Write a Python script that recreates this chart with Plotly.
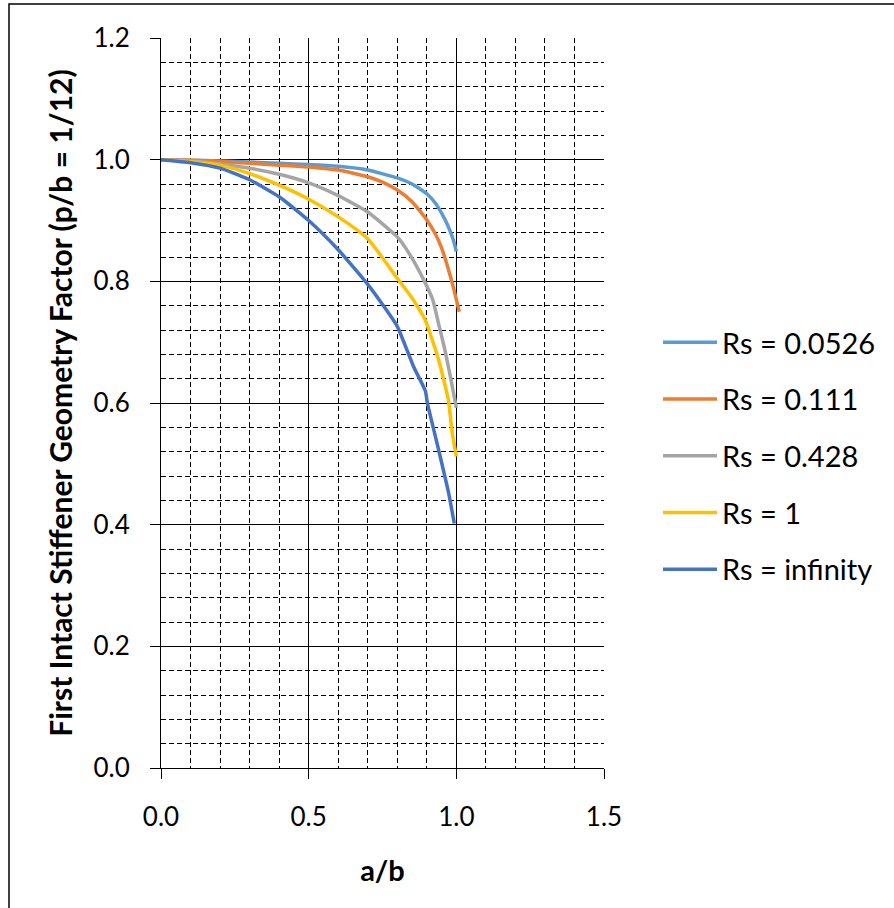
import plotly.graph_objects as go

# ---- data ----
names = ["Rs = 0.0526", "Rs = 0.111", "Rs = 0.428", "Rs = 1", "Rs = infinity"]
colors = ["#5B9BD5", "#ED7D31", "#A5A5A5", "#FFC000", "#4472C4"]

x_0526 = [0, 0.1, 0.2, 0.3, 0.4, 0.5, 0.6, 0.7, 0.8, 0.85, 0.9, 0.93, 0.95, 0.97, 0.99, 1.0]
y_0526 = [1.0, 0.999, 0.998, 0.996, 0.994, 0.992, 0.989, 0.983, 0.970, 0.960, 0.944, 0.928, 0.912, 0.893, 0.868, 0.849]

x_111 = [0, 0.1, 0.2, 0.3, 0.4, 0.5, 0.6, 0.7, 0.75, 0.8, 0.85, 0.9, 0.93, 0.95, 0.97, 0.99, 1.0, 1.01]
y_111 = [1.0, 0.999, 0.997, 0.994, 0.991, 0.988, 0.983, 0.972, 0.963, 0.950, 0.931, 0.901, 0.877, 0.855, 0.825, 0.790, 0.770, 0.750]

x_428 = [0, 0.1, 0.2, 0.3, 0.4, 0.5, 0.6, 0.7, 0.8, 0.84, 0.89, 0.92, 0.94, 0.96, 0.98, 1.0]
y_428 = [1.0, 0.998, 0.993, 0.986, 0.976, 0.962, 0.941, 0.914, 0.873, 0.846, 0.802, 0.770, 0.730, 0.690, 0.643, 0.592]

x_1 = [0, 0.1, 0.2, 0.3, 0.4, 0.5, 0.6, 0.7, 0.8, 0.855, 0.895, 0.94, 0.973, 0.986, 1.0]
y_1 = [1.0, 0.997, 0.991, 0.977, 0.958, 0.935, 0.906, 0.870, 0.805, 0.769, 0.736, 0.671, 0.605, 0.551, 0.512]

x_inf = [0, 0.1, 0.2, 0.3, 0.4, 0.5, 0.6, 0.7, 0.75, 0.8, 0.855, 0.895, 0.902, 0.94, 0.974, 0.993]
y_inf = [1.0, 0.995, 0.986, 0.967, 0.939, 0.900, 0.852, 0.795, 0.762, 0.726, 0.660, 0.620, 0.600, 0.523, 0.452, 0.402]

xs = [x_0526, x_111, x_428, x_1, x_inf]
ys = [y_0526, y_111, y_428, y_1, y_inf]

FONT = "Lato"

fig = go.Figure()
for i, (n, c, xv, yv) in enumerate(zip(names, colors, xs, ys)):
    fig.add_trace(go.Scatter(x=xv, y=yv, mode="lines", name=n, legendgroup=str(i),
                             line=dict(color=c, width=3.5, shape="spline", smoothing=0.5)))

W, H = 894, 908
L, R, T, B = 161, 290, 38, 140
pw, ph = W - L - R, H - T - B

axis_common = dict(
    showline=True, linecolor="black", linewidth=1, mirror=False,
    ticks="outside", ticklen=10, tickcolor="black", tickwidth=1,
    showgrid=True, gridcolor="black", gridwidth=1,
    zeroline=False,
    tickfont=dict(family=FONT, size=26, color="black"),
)

fig.update_xaxes(range=[0, 1.5], dtick=0.5, tick0=0, tickformat=".1f",
                 minor=dict(dtick=0.1, showgrid=True, gridcolor="black", griddash="5px,3px", gridwidth=1),
                 title=dict(text="<b>a/b</b>", font=dict(family=FONT, size=29, color="black"), standoff=29),
                 ticklabelstandoff=16,
                 **axis_common)
fig.update_yaxes(range=[0, 1.2], dtick=0.2, tick0=0, tickformat=".1f",
                 minor=dict(dtick=0.04, showgrid=True, gridcolor="black", griddash="5px,3px", gridwidth=1),
                 title=dict(text="<b>First Intact Stiffener Geometry Factor (p/b = 1/12)</b>",
                            font=dict(family=FONT, size=30, color="black"), standoff=12),
                 ticklabelstandoff=15,
                 **axis_common)

# outer chart border (top and left edges visible in the reference)
fig.add_shape(type="rect", xref="paper", yref="paper",
              x0=(9 - L) / pw, x1=(W + 20 - L) / pw,
              y0=-(B + 20) / ph, y1=(T + ph - 4) / ph,
              line=dict(color="black", width=1.5), fillcolor="rgba(0,0,0,0)", layer="below")

fig.update_layout(
    width=W, height=H,
    margin=dict(l=L, r=R, t=T, b=B),
    paper_bgcolor="white", plot_bgcolor="white",
    font=dict(family=FONT, color="black"),
    showlegend=True,
    legend=dict(x=(658 - L) / pw, xanchor="left", y=(768 - 456) / ph, yanchor="middle",
                font=dict(family=FONT, size=29, color="black"),
                tracegroupgap=16, itemwidth=54, bgcolor="rgba(0,0,0,0)"),
)

fig.write_html("out.html", config={"displayModeBar": False},
               post_script="document.body.style.margin='0';")
